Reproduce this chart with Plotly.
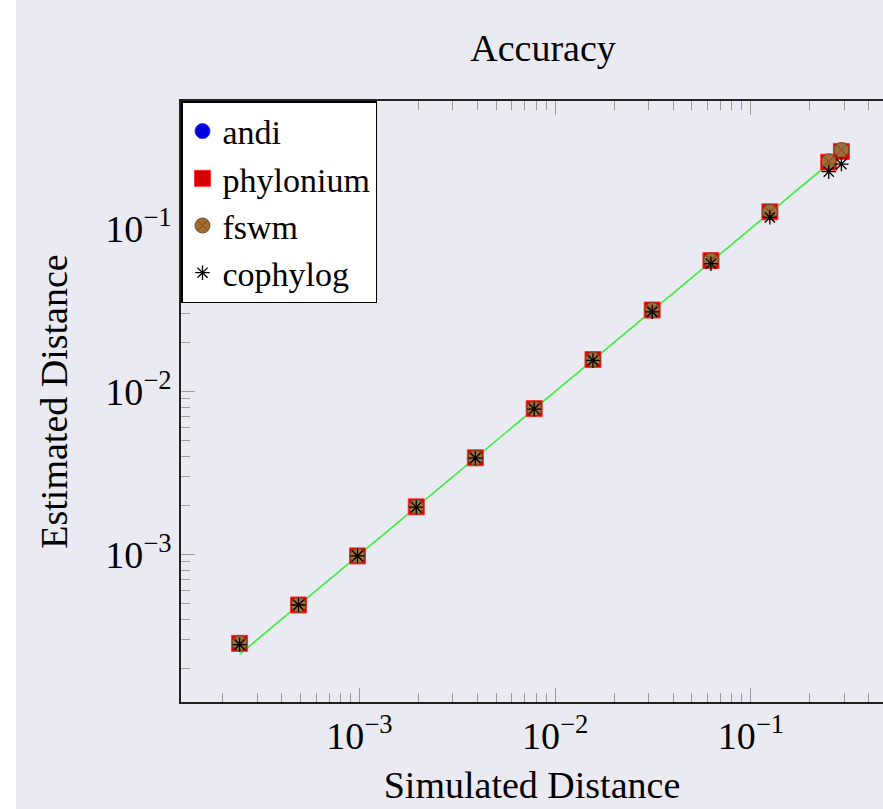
import plotly.graph_objects as go

# Data
simulated = [0.000244, 0.000488, 0.000977, 0.00195, 0.00391, 0.00781,
             0.0156, 0.0313, 0.0625, 0.125, 0.25, 0.29]
andi = [0.000285, 0.00049, 0.00098, 0.00196, 0.00392, 0.00785,
        0.0157, 0.0316, 0.0635, 0.1265, 0.256, 0.298]
phylonium = [0.000285, 0.00049, 0.00098, 0.00196, 0.00392, 0.00785,
             0.0157, 0.0316, 0.0635, 0.1265, 0.255, 0.297]
fswm = [0.000286, 0.00049, 0.00098, 0.00196, 0.00392, 0.00785,
        0.0157, 0.0316, 0.0637, 0.1266, 0.258, 0.303]
cophylog = [0.00028, 0.00049, 0.00098, 0.00195, 0.0039, 0.0078,
            0.0155, 0.0308, 0.0608, 0.117, 0.223, 0.248]
ref_line = simulated[:11]

tick_vals = [0.001, 0.01, 0.1]
tick_text = ["10<sup>−3</sup>", "10<sup>−2</sup>", "10<sup>−1</sup>"]

BG = "#EAEAF2"
FONT = "Liberation Serif"
FS = 38
LFS = 34

fig = go.Figure()
fig.add_trace(go.Scatter(x=ref_line, y=ref_line, mode="lines",
                         line=dict(color="#33EE33", width=1.5),
                         showlegend=False, hoverinfo="skip"))
fig.add_trace(go.Scatter(x=simulated, y=andi, mode="markers", name="andi",
                         marker=dict(symbol="circle", size=15, color="#0000DD",
                                     line=dict(color="#3333FF", width=1))))
fig.add_trace(go.Scatter(x=simulated, y=phylonium, mode="markers", name="phylonium",
                         marker=dict(symbol="square", size=16, color="#D40000",
                                     line=dict(color="#FF3333", width=1))))
fig.add_trace(go.Scatter(x=simulated, y=fswm, mode="markers", name="fswm",
                         marker=dict(symbol="circle-x", size=15, color="#A36C36",
                                     line=dict(color="#6E4A28", width=1))))
fig.add_trace(go.Scatter(x=simulated, y=cophylog, mode="markers", name="cophylog",
                         marker=dict(symbol="asterisk-open", size=12, color="black",
                                     line=dict(color="black", width=1.3))))

axis_common = dict(
    type="log", showgrid=False, zeroline=False,
    showline=True, linecolor="#222222", linewidth=1.5,
    ticks="inside", ticklen=14, tickwidth=1.2, tickcolor="#999999",
    tickmode="array", tickvals=tick_vals, ticktext=tick_text,
    tickfont=dict(family=FONT, size=FS, color="black"),
    minor=dict(ticks="inside", ticklen=9, tickwidth=1.2, tickcolor="#999999",
               dtick="D1", showgrid=False),
)

fig.update_layout(
    width=883, height=809,
    margin=dict(l=181, r=0, t=101, b=107),
    paper_bgcolor=BG, plot_bgcolor=BG,
    font=dict(family=FONT, size=FS, color="black"),
    title=dict(text="Accuracy", x=0.5157, xref="paper", xanchor="center",
               y=1 - 48 / 809, yref="container", yanchor="middle",
               font=dict(family=FONT, size=FS, color="black")),
    xaxis=dict(axis_common, range=[-3.912, -0.325], mirror="ticks",
               title=dict(text="Simulated Distance", standoff=15,
                          font=dict(family=FONT, size=FS))),
    yaxis=dict(axis_common, range=[-3.905, -0.218], mirror=False,
               title=dict(text="Estimated Distance", standoff=26,
                          font=dict(family=FONT, size=FS))),
    legend=dict(x=0, y=1, xanchor="left", yanchor="top",
                bgcolor="white", bordercolor="black", borderwidth=1.5,
                font=dict(family=FONT, size=LFS, color="black"),
                entrywidth=180, entrywidthmode="pixels",
                tracegroupgap=0),
    shapes=[dict(type="rect", xref="paper", yref="paper",
                 x0=-0.3, x1=-0.235, y0=-0.3, y1=1.3,
                 fillcolor="white", line=dict(width=0), layer="below")],
)

fig.write_html("out.html")
